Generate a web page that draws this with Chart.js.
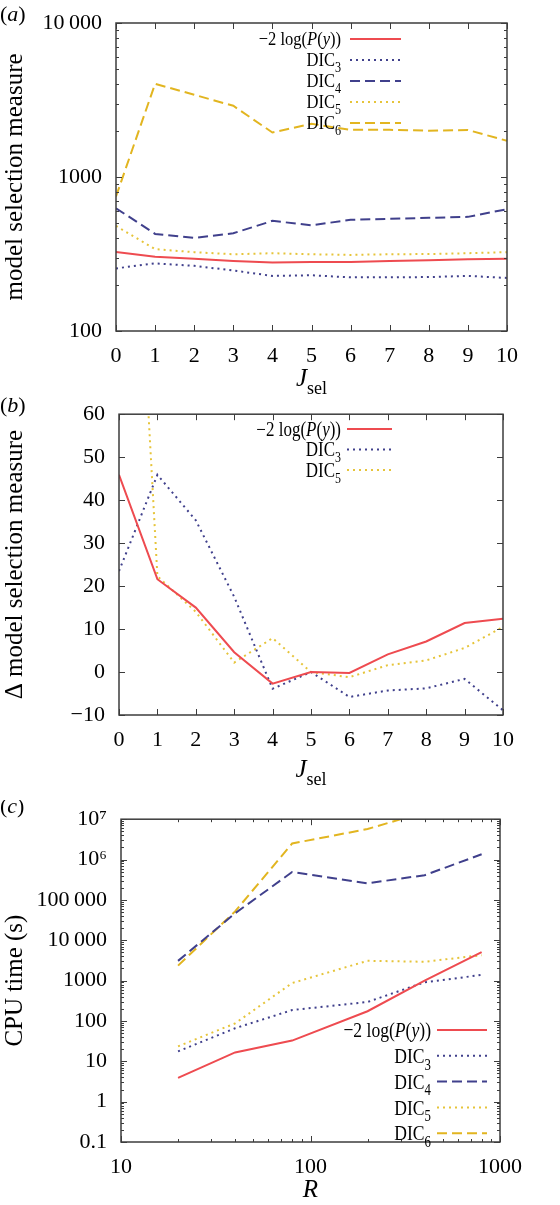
<!DOCTYPE html>
<html>
<head>
<meta charset="utf-8">
<script src="https://cdn.jsdelivr.net/npm/chart.js@4.4.1/dist/chart.umd.min.js"></script>
<style>
  body { margin: 0; background: #fff; }
  .panel { position: absolute; left: 0; width: 560px; }
</style>
</head>
<body>
<div class="panel" style="top:0;height:395px"><canvas id="chartA"></canvas></div>
<div class="panel" style="top:395px;height:405px"><canvas id="chartB"></canvas></div>
<div class="panel" style="top:800px;height:405px"><canvas id="chartC"></canvas></div>
<script>
// panel (a): model selection measure vs J_sel
const jSel = [0, 1, 2, 3, 4, 5, 6, 7, 8, 9, 10];
const logPA = [326, 303, 295, 285, 278, 281, 281, 285, 288, 292, 294];
const dic3A = [255, 275, 265, 247, 228, 230, 223, 223, 224, 228, 221];
const dic4A = [627, 427, 402, 431, 519, 486, 527, 535, 543, 551, 618];
const dic5A = [481, 340, 325, 315, 320, 315, 312, 315, 316, 320, 325];
const dic6A = [747, 4030, 3420, 2900, 1945, 2215, 2025, 2025, 2000, 2020, 1718];
const yTicksA = [100, 1000, 10000];

// panel (b): delta model selection measure vs J_sel
const logPB = [45.9, 21.6, 15.0, 4.6, -2.7, 0, -0.2, 4.1, 7.1, 11.4, 12.4];
const dic3B = [23.5, 45.9, 35.3, 17.5, -3.9, 0, -5.8, -4.3, -3.8, -1.6, -8.9];
const dic5B = [185, 22.3, 14.0, 2.2, 7.9, 0, -1.2, 1.6, 2.7, 5.6, 10.5];
const yTicksB = [-10, 0, 10, 20, 30, 40, 50, 60];

// panel (c): CPU time vs R
const rValues = [20, 40, 80, 200, 400, 800];
const logPC = [3.9, 16.6, 32.6, 174, 1000, 5100];
const dic3C = [17.6, 66, 186, 295, 910, 1380];
const dic4C = [3080, 46600, 490000, 258000, 409000, 1350000];
const dic5C = [23.4, 87, 870, 3090, 2930, 4270];
const dic6C = [2350, 51900, 2500000, 5700000, 15000000, 30000000];
const xTicksC = [10, 100, 1000];
const yTicksC = [0.1, 1, 10, 100, 1000, 10000, 100000, 1000000, 10000000];

const SERIF = "'Liberation Serif', 'DejaVu Serif', serif";
const RED = '#ee4b50', NAVY = '#40408c', GOLD = '#e2b520', YELLOW = '#e6c43a';
const SUP = { '6': '\u2076', '7': '\u2077' };

Chart.defaults.font.family = SERIF;
Chart.defaults.color = '#000';

function fmt(v) {
  if (v >= 1e6) return '10' + SUP[String(Math.round(Math.log10(v)))];
  if (v >= 10000) return String(v).replace(/(\d)(?=(\d{3})+$)/g, '$1\u2009');
  return String(v);
}

function series(label, xs, ys, color, dash) {
  return {
    label, borderColor: color, borderDash: dash, borderWidth: 2,
    data: xs.map((x, i) => ({ x, y: ys[i] })),
    pointRadius: 0, tension: 0, fill: false
  };
}

function logMinor(min, max) {
  const out = [];
  for (let d = min; d < max * 0.999; d *= 10)
    for (let k = 2; k < 10; k++) out.push(d * k);
  return out;
}

function richParts(label) {
  if (label.startsWith('DIC')) return [['DIC', 'n'], [label.slice(3), 'sub']];
  return label.split(/([Py])/).filter(s => s).map(s => [s, /^[Py]$/.test(s) ? 'i' : 'n']);
}

function fontOf(kind, size) {
  if (kind === 'i') return `italic ${size}px ${SERIF}`;
  if (kind === 'sub') return `${Math.round(size * 0.72)}px ${SERIF}`;
  return `${size}px ${SERIF}`;
}

// mixed italic / subscript text; anchor is 'left', 'center' or 'right'
function drawRich(ctx, parts, x, y, size, sx, anchor) {
  let w = 0;
  parts.forEach(([t, k]) => { ctx.font = fontOf(k, size); w += ctx.measureText(t).width; });
  w *= sx;
  const x0 = anchor === 'left' ? x : anchor === 'center' ? x - w / 2 : x - w;
  ctx.save();
  ctx.translate(x0, y);
  ctx.scale(sx, 1);
  ctx.textBaseline = 'alphabetic';
  ctx.textAlign = 'left';
  let cx = 0;
  parts.forEach(([t, k]) => {
    ctx.font = fontOf(k, size);
    ctx.fillText(t, cx, k === 'sub' ? size * 0.3 : 0);
    cx += ctx.measureText(t).width;
  });
  ctx.restore();
}

const gnuPlot = {
  id: 'gnu',
  afterDraw(chart, args, o) {
    const { ctx, chartArea: a, scales } = chart;
    ctx.save();
    ctx.strokeStyle = '#3c3c3c';
    ctx.lineWidth = 1;
    const seg = (x1, y1, x2, y2) => { ctx.beginPath(); ctx.moveTo(x1, y1); ctx.lineTo(x2, y2); ctx.stroke(); };
    const drawTicks = (scale, vals, len) => vals.forEach(v => {
      const p = Math.round(scale.getPixelForValue(v)) + 0.5;
      if (scale.isHorizontal()) { seg(p, a.bottom, p, a.bottom - len); seg(p, a.top, p, a.top + len); }
      else { seg(a.left, p, a.left + len, p); seg(a.right, p, a.right - len, p); }
    });
    [scales.x, scales.y].forEach(s => {
      drawTicks(s, s.ticks.map(t => t.value), 6);
      if (s.type === 'logarithmic') drawTicks(s, logMinor(s.min, s.max), 3);
    });
    ctx.lineWidth = 1.5;
    ctx.strokeRect(a.left, a.top, a.right - a.left, a.bottom - a.top);

    // key, gnuplot style: right-aligned text, sample line to the right
    ctx.fillStyle = '#000';
    const k = o.key;
    chart.data.datasets.forEach((ds, i) => {
      const yy = k.top + i * k.dy;
      drawRich(ctx, richParts(ds.label), k.right, yy + k.size * 0.33, k.size, k.sx, 'right');
      ctx.save();
      ctx.strokeStyle = ds.borderColor;
      ctx.lineWidth = 2;
      ctx.setLineDash(ds.borderDash || []);
      seg(k.right + k.gap, yy, k.right + k.gap + k.len, yy);
      ctx.restore();
    });

    // axis titles
    drawRich(ctx, o.xTitle, (a.left + a.right) / 2, a.bottom + o.xTitleOffset, 25, 1, 'center');
    ctx.save();
    ctx.translate(15, (a.top + a.bottom) / 2);
    ctx.rotate(-Math.PI / 2);
    ctx.font = `25px ${SERIF}`;
    ctx.textAlign = 'center';
    ctx.textBaseline = 'middle';
    ctx.fillText(o.yTitle, 0, 0);
    ctx.restore();

    // panel tag
    drawRich(ctx, [['(', 'n'], [o.tag, 'i'], [')', 'n']], 0, o.tagBase, 22, 1, 'left');
    ctx.restore();
  }
};

function makeChart(id, datasets, cfg) {
  const tickFont = { family: SERIF, size: 22 };
  return new Chart(document.getElementById(id), {
    type: 'line',
    data: { datasets },
    options: {
      responsive: true,
      maintainAspectRatio: false,
      animation: false,
      layout: { padding: { top: cfg.padTop, right: cfg.padRight, left: 0, bottom: 0 } },
      plugins: { legend: { display: false }, tooltip: { enabled: false }, gnu: cfg.gnu },
      scales: {
        x: {
          type: cfg.xType, min: cfg.xMin, max: cfg.xMax,
          grid: { display: false }, border: { display: false },
          afterBuildTicks: s => { s.ticks = cfg.xTicks.map(v => ({ value: v })); },
          afterFit: s => { s.height = cfg.xHeight; },
          ticks: { font: tickFont, color: '#000', padding: 4, maxRotation: 0, autoSkip: false, callback: v => fmt(v) }
        },
        y: {
          type: cfg.yType, min: cfg.yMin, max: cfg.yMax,
          grid: { display: false }, border: { display: false },
          afterBuildTicks: s => { s.ticks = cfg.yTicks.map(v => ({ value: v })); },
          afterFit: s => { s.width = cfg.yWidth; },
          ticks: { font: tickFont, color: '#000', padding: 6, autoSkip: false, callback: v => v < 0 ? '\u2212' + Math.abs(v) : fmt(v) }
        }
      }
    },
    plugins: [gnuPlot]
  });
}

const LOGP = '\u22122 log(P(y))';

makeChart('chartA', [
  series(LOGP, jSel, logPA, RED, []),
  series('DIC3', jSel, dic3A, NAVY, [2, 4]),
  series('DIC4', jSel, dic4A, NAVY, [10, 5]),
  series('DIC5', jSel, dic5A, YELLOW, [2, 4]),
  series('DIC6', jSel, dic6A, GOLD, [10, 5])
], {
  padTop: 23, padRight: 53, xHeight: 64, yWidth: 116,
  xType: 'linear', xMin: 0, xMax: 10, xTicks: jSel,
  yType: 'logarithmic', yMin: 100, yMax: 10000, yTicks: yTicksA,
  gnu: {
    key: { right: 341, top: 39, dy: 21, size: 19, sx: 0.87, gap: 9, len: 51 },
    xTitle: [['J', 'i'], ['sel', 'sub']], xTitleOffset: 55,
    yTitle: 'model selection measure', tag: 'a', tagBase: 21
  }
});

makeChart('chartB', [
  series(LOGP, jSel, logPB, RED, []),
  series('DIC3', jSel, dic3B, NAVY, [2, 4]),
  series('DIC5', jSel, dic5B, YELLOW, [2, 4])
], {
  padTop: 18, padRight: 57, xHeight: 85, yWidth: 119,
  xType: 'linear', xMin: 0, xMax: 10, xTicks: jSel,
  yType: 'linear', yMin: -10, yMax: 60, yTicks: yTicksB,
  gnu: {
    key: { right: 341, top: 34, dy: 20.5, size: 20, sx: 0.85, gap: 6, len: 45 },
    xTitle: [['J', 'i'], ['sel', 'sub']], xTitleOffset: 62,
    yTitle: '\u0394 model selection measure', tag: 'b', tagBase: 17
  }
});

makeChart('chartC', [
  series(LOGP, rValues, logPC, RED, []),
  series('DIC3', rValues, dic3C, NAVY, [2, 4]),
  series('DIC4', rValues, dic4C, NAVY, [10, 5]),
  series('DIC5', rValues, dic5C, YELLOW, [2, 4]),
  series('DIC6', rValues, dic6C, GOLD, [10, 5])
], {
  padTop: 15, padRight: 60, xHeight: 63, yWidth: 121,
  xType: 'logarithmic', xMin: 10, xMax: 1000, xTicks: xTicksC,
  yType: 'logarithmic', yMin: 0.1, yMax: 1e7, yTicks: yTicksC,
  gnu: {
    key: { right: 431, top: 230, dy: 25.8, size: 22, sx: 0.8, gap: 6, len: 50 },
    xTitle: [['R', 'i']], xTitleOffset: 55,
    yTitle: 'CPU time (s)', tag: 'c', tagBase: 13
  }
});
</script>
</body>
</html>
